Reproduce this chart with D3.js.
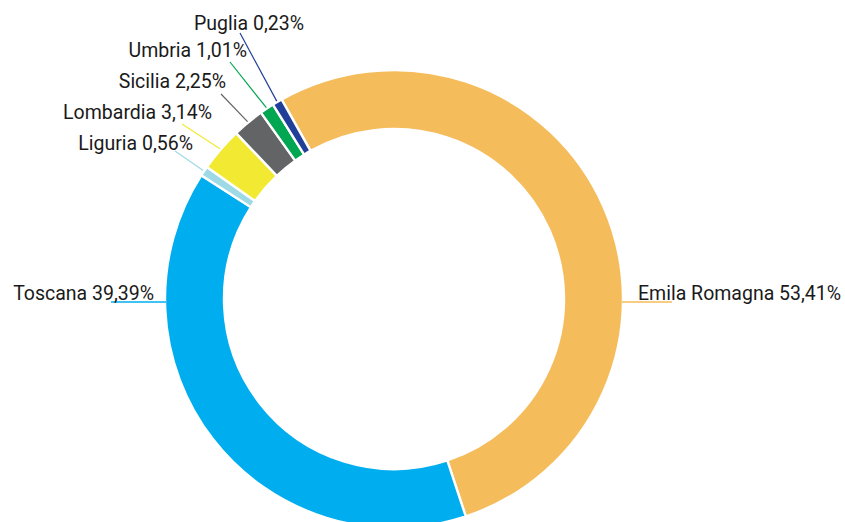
<!DOCTYPE html>
<html>
<head>
<meta charset="utf-8">
<script src="https://cdn.jsdelivr.net/npm/d3@7"></script>
<style>
  body { margin: 0; background: #fff; }
  text { font-family: Roboto, "Noto Sans", sans-serif; fill: #1a1a1a; }
</style>
</head>
<body>
<svg id="chart"></svg>
<script>
// data, in drawing order (clockwise)
var regions = ['Emila Romagna', 'Toscana', 'Liguria', 'Lombardia', 'Sicilia', 'Umbria', 'Puglia'];
var shares = [53.41, 39.39, 0.56, 3.14, 2.25, 1.01, 0.23];
var colors = ['#F5BC5C', '#00AEEF', '#9ED9E6', '#F2EA32', '#636466', '#00A651', '#213F99'];

var config = {
  width: 845,
  height: 522,
  cx: 394,
  cy: 299,
  outer: 229,
  inner: 170,
  startDeg: -29.4,
  fontSize: 19.5,
  minShare: 0.7 // smallest slice drawn, so tiny shares stay visible
};

// where the leader lines of the small slices start (label side), and text offsets
var smallLabels = {
  'Puglia':    { x: 240, y: 33,  dx: 64, dy: -3 },
  'Umbria':    { x: 230, y: 62,  dx: 17, dy: -5 },
  'Sicilia':   { x: 221, y: 94,  dx: 5,  dy: -6 },
  'Lombardia': { x: 182, y: 124, dx: 30, dy: -5 },
  'Liguria':   { x: 175, y: 151, dx: 18, dy: -1 }
};

var data = regions.map(function(r, i) {
  return { name: r, value: shares[i], color: colors[i] };
});

var fmt = function(v) { return v.toFixed(2).replace('.', ',') + '%'; };

var svg = d3.select('#chart').attr('width', config.width).attr('height', config.height);
var g = svg.append('g').attr('transform', 'translate(' + config.cx + ',' + config.cy + ')');

var start = config.startDeg * Math.PI / 180;
var pie = d3.pie().sort(null)
  .value(function(d) { return Math.max(d.value, config.minShare); })
  .startAngle(start).endAngle(start + 2 * Math.PI);
var arc = d3.arc().innerRadius(config.inner).outerRadius(config.outer);

var arcs = pie(data);

g.selectAll('path.slice')
  .data(arcs)
  .enter()
  .append('path')
  .attr('class', 'slice')
  .attr('d', arc)
  .attr('fill', function(d) { return d.data.color; })
  .attr('stroke', '#fff')
  .attr('stroke-width', 2.4);

// labels
arcs.forEach(function(d) {
  var mid = (d.startAngle + d.endAngle) / 2;
  var label = d.data.name + ' ' + fmt(d.data.value);
  var lay = smallLabels[d.data.name];
  if (lay) {
    var ex = (config.outer + 1) * Math.sin(mid), ey = -(config.outer + 1) * Math.cos(mid);
    var sx = lay.x - config.cx, sy = lay.y - config.cy;
    g.append('line')
      .attr('x1', sx).attr('y1', sy).attr('x2', ex).attr('y2', ey)
      .attr('stroke', d.data.color).attr('stroke-width', 1.2);
    g.append('text')
      .attr('x', sx + lay.dx).attr('y', sy + lay.dy)
      .attr('text-anchor', 'end')
      .style('font-size', config.fontSize + 'px')
      .text(label);
  } else {
    var right = Math.sin(mid) > 0;
    var edge = right ? config.outer - 1 : -config.outer + 1;
    var far = right ? edge + 50 : edge - 55;
    g.append('line')
      .attr('x1', edge).attr('y1', 3).attr('x2', far).attr('y2', 3)
      .attr('stroke', d.data.color).attr('stroke-width', 1.5);
    g.append('text')
      .attr('x', right ? edge + 16 : edge - 12)
      .attr('y', 1)
      .attr('text-anchor', right ? 'start' : 'end')
      .style('font-size', config.fontSize + 'px')
      .text(label);
  }
});
</script>
</body>
</html>
